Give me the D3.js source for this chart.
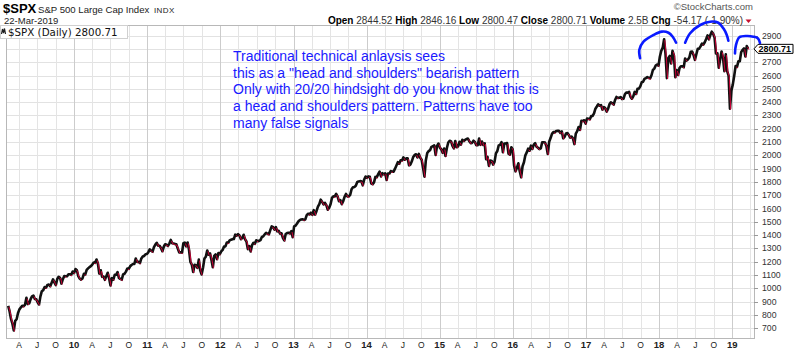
<!DOCTYPE html>
<html>
<head>
<meta charset="utf-8">
<script src="https://cdn.jsdelivr.net/npm/d3@7/dist/d3.min.js"></script>
<style>
body { margin: 0; background: #fff; }
svg { display: block; font-family: "Liberation Sans", Arial, sans-serif; }
</style>
</head>
<body>
<div class="data_figure"></div>
<script>
// weekly closes of $SPX, each year's list starts on the friday given here
const weekStarts = ["2009-02-06", "2010-01-08", "2011-01-07", "2012-01-06", "2013-01-04", "2014-01-03",
                    "2015-01-02", "2016-01-08", "2017-01-06", "2018-01-05", "2019-01-04"];

const closes2009 = [868, 827, 770, 735, 683, 756, 768, 815, 842, 856, 869, 866, 877, 929, 882, 887, 919, 940, 946, 921,
                    918, 896, 879, 940, 979, 987, 1010, 1005, 1026, 1029, 1016, 1042, 1068, 1044, 1025, 1071, 1087, 1080,
                    1036, 1069, 1093, 1091, 1091, 1106, 1106, 1102, 1127, 1115];
const closes2010 = [1145, 1136, 1092, 1074, 1066, 1075, 1109, 1105, 1139, 1150, 1160, 1167, 1179, 1194, 1192, 1217, 1187,
                    1111, 1136, 1087, 1089, 1064, 1092, 1117, 1076, 1022, 1078, 1065, 1102, 1102, 1122, 1079, 1071, 1065,
                    1105, 1110, 1126, 1149, 1147, 1166, 1176, 1183, 1183, 1225, 1199, 1200, 1190, 1225, 1240, 1244, 1257, 1258];
const closes2011 = [1272, 1293, 1283, 1276, 1310, 1329, 1343, 1320, 1321, 1304, 1279, 1313, 1332, 1328, 1319, 1337, 1364,
                    1340, 1338, 1333, 1331, 1300, 1271, 1271, 1268, 1339, 1344, 1316, 1345, 1292, 1199, 1179, 1123, 1177,
                    1174, 1154, 1216, 1136, 1105, 1155, 1224, 1238, 1285, 1253, 1263, 1216, 1159, 1244, 1255, 1219, 1265, 1258];
const closes2012 = [1278, 1289, 1315, 1316, 1345, 1343, 1361, 1366, 1370, 1371, 1404, 1397, 1408, 1398, 1370, 1379, 1403,
                    1369, 1353, 1295, 1318, 1278, 1325, 1343, 1335, 1362, 1355, 1357, 1363, 1386, 1391, 1406, 1418, 1411,
                    1407, 1438, 1466, 1460, 1441, 1461, 1429, 1433, 1412, 1414, 1380, 1360, 1409, 1416, 1418, 1413, 1430, 1385];
const closes2013 = [1466, 1472, 1486, 1503, 1513, 1518, 1520, 1515, 1518, 1551, 1561, 1556, 1569, 1553, 1588, 1555, 1582,
                    1614, 1633, 1667, 1650, 1631, 1643, 1626, 1592, 1606, 1632, 1680, 1692, 1691, 1710, 1691, 1655, 1664,
                    1633, 1655, 1688, 1710, 1692, 1691, 1703, 1745, 1760, 1762, 1771, 1798, 1804, 1806, 1805, 1775, 1818, 1841];
const closes2014 = [1831, 1842, 1839, 1790, 1783, 1797, 1838, 1836, 1859, 1878, 1841, 1866, 1857, 1865, 1815, 1864, 1863,
                    1881, 1878, 1878, 1900, 1924, 1949, 1937, 1963, 1961, 1985, 1967, 1978, 1978, 1925, 1931, 1955, 1988,
                    2003, 2008, 1985, 2011, 1982, 1967, 1906, 1840, 1964, 2018, 2032, 2039, 2064, 2068, 2075, 2003, 2071, 2089];
const closes2015 = [2058, 2045, 2019, 2051, 1995, 2055, 2097, 2110, 2105, 2071, 2053, 2108, 2061, 2067, 2102, 2081, 2117,
                    2108, 2116, 2123, 2126, 2107, 2092, 2094, 2110, 2101, 2076, 2076, 2127, 2079, 2104, 2078, 2091, 1971,
                    1989, 1921, 1961, 1958, 1931, 1951, 2015, 2033, 2075, 2079, 2099, 2023, 2089, 2090, 2092, 2012, 2005,
                    2061, 2044];
const closes2016 = [1922, 1880, 1907, 1940, 1880, 1835, 1918, 1948, 2000, 2022, 2050, 2035, 2073, 2048, 2081, 2092, 2065,
                    2057, 2047, 2052, 2099, 2099, 2096, 2071, 2010, 2103, 2130, 2162, 2175, 2173, 2183, 2184, 2184, 2169,
                    2180, 2128, 2139, 2165, 2168, 2153, 2133, 2141, 2126, 2085, 2164, 2182, 2213, 2192, 2260, 2258, 2264, 2239];
const closes2017 = [2277, 2275, 2271, 2295, 2297, 2316, 2351, 2367, 2384, 2373, 2378, 2344, 2363, 2355, 2329, 2349, 2384,
                    2399, 2391, 2382, 2416, 2439, 2432, 2433, 2438, 2423, 2425, 2459, 2472, 2472, 2477, 2441, 2426, 2443,
                    2477, 2461, 2500, 2502, 2519, 2549, 2553, 2575, 2581, 2588, 2582, 2579, 2602, 2642, 2652, 2675, 2683, 2674];
const closes2018 = [2743, 2786, 2810, 2873, 2762, 2581, 2732, 2747, 2691, 2786, 2752, 2588, 2641, 2604, 2656, 2670, 2670,
                    2663, 2728, 2713, 2721, 2735, 2779, 2780, 2755, 2718, 2760, 2801, 2802, 2819, 2840, 2833, 2850, 2875,
                    2902, 2872, 2905, 2930, 2914, 2886, 2767, 2768, 2659, 2723, 2781, 2736, 2633, 2760, 2633, 2600, 2351, 2486];
const closes2019 = [2532, 2596, 2671, 2665, 2707, 2708, 2776, 2793, 2804, 2743, 2822, 2801];

const yTicks = [700, 800, 900, 1000, 1100, 1200, 1300, 1400, 1500, 1600, 1700, 1800, 1900, 2000,
                2100, 2200, 2300, 2400, 2500, 2600, 2700, 2800, 2900];
const monthLetters = { 3: "A", 6: "J", 9: "O" };

const lastClose = 2800.71;
const headerFields = [["Open", "2844.52"], ["High", "2846.16"], ["Low", "2800.47"],
                      ["Close", "2800.71"], ["Volume", "2.5B"], ["Chg", "-54.17 (-1.90%)"]];

const noteLines = [
    "Traditional technical anlaysis sees",
    "this as a \"head and shoulders\" bearish pattern",
    "Only with 20/20 hindsight do you know that this is",
    "a head and shoulders pattern. Patterns have too",
    "many false signals"
];

// hand drawn arcs over the shoulders and head
const leftShoulder = [["2017-09-28", 2730], ["2017-09-24", 2792], ["2017-10-15", 2855], ["2017-12-04", 2905],
                      ["2018-01-15", 2930], ["2018-02-17", 2922], ["2018-03-10", 2892], ["2018-03-27", 2847]];
const headArc = [["2018-05-11", 2847], ["2018-06-05", 2918], ["2018-07-25", 2980], ["2018-09-13", 3005],
                 ["2018-10-24", 2997], ["2018-11-18", 2955], ["2018-12-05", 2905], ["2018-12-13", 2862]];
const rightShoulder = [["2019-01-15", 2767], ["2019-01-20", 2830], ["2019-02-06", 2888], ["2019-03-15", 2897],
                       ["2019-04-17", 2892], ["2019-05-10", 2879], ["2019-05-20", 2845]];

const widthMax = 800;
const heightMax = 354;
const plot = { left: 6, right: 754, top: 25, bottom: 338 };

const parseDate = d3.timeParse("%Y-%m-%d");

const yearly = [closes2009, closes2010, closes2011, closes2012, closes2013, closes2014,
                closes2015, closes2016, closes2017, closes2018, closes2019];
let weekly = [];
yearly.forEach((list, k) => {
    const start = parseDate(weekStarts[k]);
    list.forEach((c, i) => weekly.push({ date: d3.timeDay.offset(start, 7 * i), close: c }));
});
const lastDate = weekly[weekly.length - 1].date;

const svg = d3.select(".data_figure")
              .append("svg")
              .attr("width", widthMax)
              .attr("height", heightMax);

const x = d3.scaleTime()
            .domain([new Date(2009, 0, 26), new Date(2019, 3, 20)])
            .range([plot.left, plot.right]);
const y = d3.scaleLinear()
            .domain([627, 2980])
            .range([plot.bottom, plot.top]);

// grid
const quarters = x.ticks(d3.timeMonth.every(3));
svg.append("g")
    .selectAll("line")
    .data(yTicks)
    .enter()
        .append("line")
        .attr("x1", plot.left)
        .attr("x2", plot.right)
        .attr("y1", (d) => Math.round(y(d)) + 0.5)
        .attr("y2", (d) => Math.round(y(d)) + 0.5)
        .attr("stroke", "#e2e2e2");
svg.append("g")
    .selectAll("line")
    .data(quarters)
    .enter()
        .append("line")
        .attr("x1", (d) => Math.round(x(d)) + 0.5)
        .attr("x2", (d) => Math.round(x(d)) + 0.5)
        .attr("y1", plot.top)
        .attr("y2", plot.bottom)
        .attr("stroke", (d) => d.getMonth() == 0 ? "#cccccc" : "#e4e4e4");

svg.append("rect")
    .attr("x", plot.left + 0.5)
    .attr("y", plot.top + 0.5)
    .attr("width", plot.right - plot.left)
    .attr("height", plot.bottom - plot.top)
    .attr("fill", "none")
    .attr("stroke", "#b8b8b8");

// y ticks + labels
svg.append("g")
    .selectAll("line")
    .data(yTicks)
    .enter()
        .append("line")
        .attr("x1", plot.right)
        .attr("x2", plot.right + 4)
        .attr("y1", (d) => Math.round(y(d)) + 0.5)
        .attr("y2", (d) => Math.round(y(d)) + 0.5)
        .attr("stroke", "#999");
svg.append("g")
    .selectAll("text")
    .data(yTicks.filter((d) => Math.abs(d - lastClose) > 50))
    .enter()
        .append("text")
        .text((d) => d)
        .attr("x", 762)
        .attr("y", (d) => y(d) + 3)
        .attr("font-size", "8.7px")
        .attr("fill", "#333");

// x labels (only up to the last bar)
svg.append("g")
    .selectAll("text")
    .data(quarters.filter((d) => d <= lastDate))
    .enter()
        .append("text")
        .text((d) => d.getMonth() == 0 ? d3.timeFormat("%y")(d) : monthLetters[d.getMonth()])
        .attr("x", (d) => x(d))
        .attr("y", 348)
        .attr("text-anchor", "middle")
        .attr("font-size", (d) => d.getMonth() == 0 ? "9.5px" : "8.5px")
        .attr("font-weight", (d) => d.getMonth() == 0 ? "bold" : "normal")
        .attr("fill", "#222");

// price line
const priceLine = d3.line()
                    .x((d) => x(d.date))
                    .y((d) => y(d.close));
svg.append("path")
    .datum(weekly)
    .attr("d", priceLine)
    .attr("fill", "none")
    .attr("stroke", "#111")
    .attr("stroke-width", 2.6)
    .attr("stroke-linejoin", "round");

const downs = weekly.slice(1).map((d, i) => [weekly[i], d]).filter((p) => p[1].close < p[0].close);
svg.append("g")
    .selectAll("path")
    .data(downs)
    .enter()
        .append("path")
        .attr("d", priceLine)
        .attr("fill", "none")
        .attr("stroke", "#e4003c")
        .attr("stroke-width", 0.9)
        .attr("transform", "translate(0.7,0.9)");

// legend row inside plot
svg.append("rect")
    .attr("x", 0.5)
    .attr("y", 25.5)
    .attr("width", 127)
    .attr("height", 13)
    .attr("fill", "#fff")
    .attr("stroke", "#d0d0d0");
svg.append("path")
    .attr("d", "M1.5,34 L2.5,29 L3.5,33 L4.5,28.5 L5.5,34")
    .attr("fill", "none")
    .attr("stroke", "#222")
    .attr("stroke-width", 1.2);
svg.append("text")
    .text("$SPX (Daily) 2800.71")
    .attr("x", 8)
    .attr("y", 36)
    .attr("font-family", "DejaVu Sans")
    .attr("font-size", "10.3px")
    .attr("fill", "#111");

// header
svg.append("text")
    .text("$SPX")
    .attr("x", 3)
    .attr("y", 13)
    .attr("font-size", "13px")
    .attr("font-weight", "bold")
    .attr("fill", "#000");
svg.append("text")
    .text("S&P 500 Large Cap Index")
    .attr("x", 38)
    .attr("y", 13)
    .attr("font-size", "9.6px")
    .attr("fill", "#222");
svg.append("text")
    .text("INDX")
    .attr("x", 154)
    .attr("y", 13)
    .attr("font-size", "8px")
    .attr("letter-spacing", "0.4px")
    .attr("fill", "#222");
svg.append("text")
    .text("22-Mar-2019")
    .attr("x", 4)
    .attr("y", 23.5)
    .attr("font-size", "9.5px")
    .attr("fill", "#222");
svg.append("text")
    .text("\u00A9StockCharts.com")
    .attr("x", 753)
    .attr("y", 9.5)
    .attr("text-anchor", "end")
    .attr("font-size", "9.5px")
    .attr("fill", "#555");

const header = svg.append("text")
                  .attr("x", 743)
                  .attr("y", 23.5)
                  .attr("text-anchor", "end")
                  .attr("font-size", "10px");
headerFields.forEach((f, i) => {
    header.append("tspan").text((i ? " " : "") + f[0]).attr("font-weight", "bold").attr("fill", "#000");
    header.append("tspan").text(" " + f[1]).attr("fill", "#333");
});
svg.append("path")
    .attr("d", "M745.5,19.5 L751.5,19.5 L748.5,23 Z")
    .attr("fill", "#c8102e");

// last price marker
const yl = y(lastClose);
svg.append("path")
    .attr("d", `M${plot.right},${yl} L${plot.right + 4},${yl - 4.5} L793,${yl - 4.5} L793,${yl + 4.5} L${plot.right + 4},${yl + 4.5} Z`)
    .attr("fill", "#fff")
    .attr("stroke", "#000");
svg.append("text")
    .text(lastClose.toFixed(2))
    .attr("x", 758.5)
    .attr("y", yl + 3.3)
    .attr("font-size", "9px")
    .attr("font-weight", "bold")
    .attr("fill", "#000");

// annotation
const note = svg.append("text")
                .attr("font-size", "14px")
                .attr("fill", "#1a1aff");
noteLines.forEach((line, i) => {
    note.append("tspan").text(line).attr("x", 233).attr("y", 61 + i * 16.7);
});

const arcLine = d3.line()
                  .x((d) => x(parseDate(d[0])))
                  .y((d) => y(d[1]))
                  .curve(d3.curveCatmullRom);
svg.append("g")
    .selectAll("path")
    .data([leftShoulder, headArc, rightShoulder])
    .enter()
        .append("path")
        .attr("d", arcLine)
        .attr("fill", "none")
        .attr("stroke", "#0a1aff")
        .attr("stroke-width", 2.6)
        .attr("stroke-linecap", "round");
</script>
</body>
</html>
